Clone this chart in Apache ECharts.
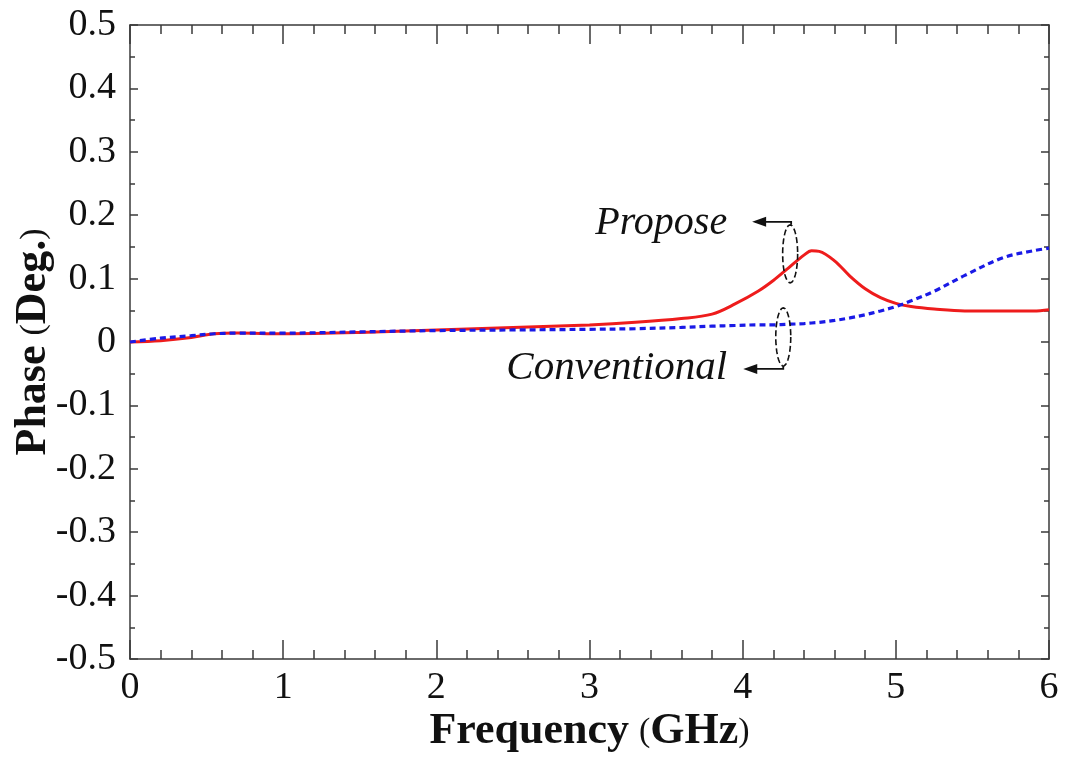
<!DOCTYPE html>
<html>
<head>
<meta charset="utf-8">
<script src="https://cdn.jsdelivr.net/npm/echarts@6/dist/echarts.min.js"></script>
<style>
html,body{margin:0;padding:0;background:#fff;}
#chart{width:1069px;height:765px;}
</style>
</head>
<body>
<div id="chart"></div>
<script>
// ---- data ----
const freqGHz = [0, 0.2, 0.4, 0.55, 0.7, 1.0, 1.5, 2.0, 2.5, 3.0, 3.3, 3.6, 3.8, 3.95, 4.1, 4.2, 4.3, 4.4, 4.45, 4.5, 4.6, 4.7, 4.8, 4.9, 5.0, 5.1, 5.25, 5.45, 5.7, 5.9, 6.0];
const proposePhase = [0, 0.002, 0.007, 0.013, 0.014, 0.013, 0.015, 0.019, 0.023, 0.027, 0.031, 0.037, 0.044, 0.060, 0.080, 0.097, 0.117, 0.137, 0.144, 0.143, 0.128, 0.104, 0.084, 0.070, 0.061, 0.056, 0.052, 0.049, 0.049, 0.049, 0.051];
const conventionalPhase = [0, 0.006, 0.010, 0.013, 0.014, 0.014, 0.016, 0.018, 0.019, 0.020, 0.021, 0.023, 0.025, 0.026, 0.027, 0.027, 0.028, 0.029, 0.030, 0.031, 0.034, 0.038, 0.043, 0.049, 0.056, 0.065, 0.080, 0.105, 0.133, 0.144, 0.148];
const seriesNames = ['Propose', 'Conventional'];
const xTitle = 'Frequency';
const xUnit = 'GHz';
const yTitle = 'Phase';
const yUnit = 'Deg.';

const FONT = '"Liberation Serif", "DejaVu Serif", serif';
const AX = '#3a3a3a';

const chart = echarts.init(document.getElementById('chart'));

function yFmt(v){ return Math.abs(v) < 1e-9 ? '0' : v.toFixed(1); }

const baseAxisLine = {show:true, onZero:false, lineStyle:{color:AX, width:1.5}};
const nameRich = {
  b:{fontFamily:FONT, fontWeight:'bold', fontSize:44, color:'#111'},
  p:{fontFamily:FONT, fontSize:34, color:'#111'},
  s:{fontFamily:FONT, fontSize:20, width:10}
};

const option = {
  backgroundColor:'#fff',
  animation:false,
  grid:{left:130, right:20, top:25, bottom:106, containLabel:false, outerBoundsMode:'none'},
  xAxis:[
    {type:'value', min:0, max:6, interval:1, position:'bottom',
     axisLine:baseAxisLine,
     axisTick:{show:true, inside:true, length:19, lineStyle:{color:AX, width:1.5}},
     minorTick:{show:true, splitNumber:5, length:9, lineStyle:{color:AX, width:1.5}},
     splitLine:{show:false},
     axisLabel:{fontFamily:FONT, fontSize:38, color:'#111', margin:10},
     name:'{b|' + xTitle + '}{s|\u00a0}{p|(}{b|' + xUnit + '}{p|)}',
     nameLocation:'middle', nameGap:51, nameMoveOverlap:false,
     nameTextStyle:{rich:nameRich}
    },
    {type:'value', min:0, max:6, interval:1, position:'top',
     axisLine:baseAxisLine,
     axisTick:{show:true, inside:true, length:19, lineStyle:{color:AX, width:1.5}},
     minorTick:{show:true, splitNumber:5, length:9, lineStyle:{color:AX, width:1.5}},
     splitLine:{show:false}, axisLabel:{show:false}}
  ],
  yAxis:[
    {type:'value', min:-0.5, max:0.5, interval:0.1, position:'left',
     axisLine:baseAxisLine,
     axisTick:{show:true, inside:true, length:8, lineStyle:{color:AX, width:1.5}},
     minorTick:{show:true, splitNumber:2, length:5, lineStyle:{color:AX, width:1.5}},
     splitLine:{show:false},
     axisLabel:{fontFamily:FONT, fontSize:38, color:'#111', margin:14, formatter:yFmt},
     name:'{b|' + yTitle + '}{s|\u00a0}{p|(}{b|' + yUnit + '}{p|)}',
     nameLocation:'middle', nameGap:74, nameRotate:90, nameMoveOverlap:false,
     nameTextStyle:{rich:nameRich}
    },
    {type:'value', min:-0.5, max:0.5, interval:0.1, position:'right',
     axisLine:baseAxisLine,
     axisTick:{show:true, inside:true, length:8, lineStyle:{color:AX, width:1.5}},
     minorTick:{show:true, splitNumber:2, length:5, lineStyle:{color:AX, width:1.5}},
     splitLine:{show:false}, axisLabel:{show:false}}
  ],
  series:[
    {name:seriesNames[0], type:'line', xAxisIndex:0, yAxisIndex:0, smooth:0.35,
     showSymbol:false, symbol:'none', z:3,
     lineStyle:{color:'#ee1c1c', width:3},
     data:freqGHz.map((f,i)=>[f, proposePhase[i]])},
    {name:seriesNames[1], type:'line', xAxisIndex:0, yAxisIndex:0, smooth:0.35,
     showSymbol:false, symbol:'none', z:4,
     lineStyle:{color:'#1a1ae6', width:3.2, type:[6,4]},
     data:freqGHz.map((f,i)=>[f, conventionalPhase[i]])}
  ]
};
chart.setOption(option);

// ---- annotations (bracket ellipses + arrows + labels), anchored in data space ----
function px(x,y){ return chart.convertToPixel({xAxisIndex:0, yAxisIndex:0}, [x,y]); }
function ellipsePts(cx, cy, rx, ry){
  const pts=[];
  for(let k=0;k<=48;k++){ const t=k/48*Math.PI*2; pts.push([cx+rx*Math.cos(t), cy+ry*Math.sin(t)]); }
  return pts;
}
const dash = {stroke:'#111', lineWidth:1.6, lineDash:[6,3], fill:null};
const solid = {stroke:'#111', lineWidth:1.8, fill:null};
function arrowHead(tipX, tipY){
  return {type:'polygon', shape:{points:[[tipX,tipY],[tipX+14,tipY-5],[tipX+14,tipY+5]]}, style:{fill:'#111'}};
}
const pc = px(4.31, 0.139);   // Propose bracket centre
const cc = px(4.265, 0.008);  // Conventional bracket centre
const ry = 29, rx = 7.5;
const g = [];
g.push({type:'polyline', shape:{points:ellipsePts(pc[0],pc[1],rx,ry)}, style:dash, z:10});
g.push({type:'polyline', shape:{points:[[pc[0]+1, pc[1]-ry],[pc[0]+1, pc[1]-ry-3],[pc[0]-35, pc[1]-ry-3]]}, style:solid, z:10});
g.push(Object.assign(arrowHead(pc[0]-38, pc[1]-ry-3), {z:10}));
g.push({type:'text', x:pc[0]-63, y:pc[1]-ry-1, style:{text:seriesNames[0], font:'italic 40px ' + FONT, fill:'#111', textAlign:'right', textVerticalAlign:'middle'}, z:10});

g.push({type:'polyline', shape:{points:ellipsePts(cc[0],cc[1],rx,ry)}, style:dash, z:10});
g.push({type:'polyline', shape:{points:[[cc[0], cc[1]+ry],[cc[0], cc[1]+ry+3],[cc[0]-36, cc[1]+ry+3]]}, style:solid, z:10});
g.push(Object.assign(arrowHead(cc[0]-40, cc[1]+ry+3), {z:10}));
g.push({type:'text', x:cc[0]-56, y:cc[1]+ry+2, style:{text:seriesNames[1], font:'italic 41px ' + FONT, fill:'#111', textAlign:'right', textVerticalAlign:'middle'}, z:10});

chart.setOption({graphic:{elements:g}});
</script>
</body>
</html>
